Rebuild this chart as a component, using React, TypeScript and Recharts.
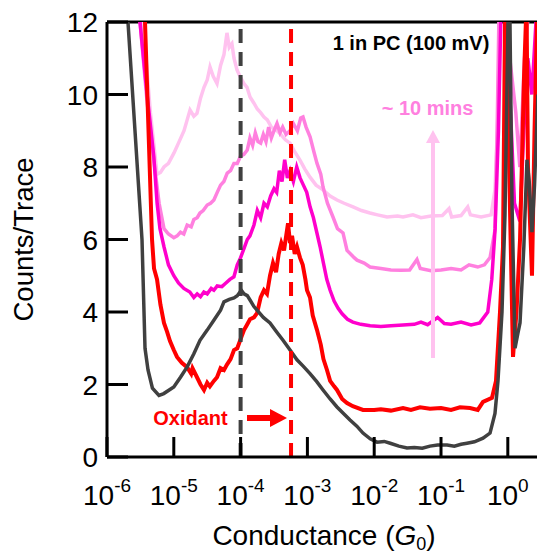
import React from 'react';
import { LineChart, Line, XAxis, YAxis, ReferenceLine, ReferenceDot } from 'recharts';

// x values are log10(G/G0)
const xTicks = [-6, -5, -4, -3, -2, -1, 0];
const yTicks = [0, 2, 4, 6, 8, 10, 12];

const graySeries: [number, number][] = [
  [-5.75, 14], [-5.686, 12], [-5.476, 6.0], [-5.431, 3.0], [-5.386, 2.4], [-5.32, 1.9], [-5.222, 1.7],
  [-5.15, 1.75], [-5.0, 1.93], [-4.9, 2.2], [-4.802, 2.48], [-4.7, 2.85], [-4.608, 3.22], [-4.5, 3.5],
  [-4.398, 3.78], [-4.3, 4.05], [-4.249, 4.28], [-4.17, 4.35], [-4.099, 4.39], [-4.05, 4.45], [-3.99, 4.6],
  [-3.95, 4.5], [-3.9, 4.45], [-3.859, 4.33], [-3.8, 4.15], [-3.754, 4.05], [-3.66, 3.85], [-3.56, 3.7],
  [-3.46, 3.45], [-3.365, 3.22], [-3.26, 2.95], [-3.156, 2.68], [-3.06, 2.5], [-2.961, 2.3], [-2.86, 2.08],
  [-2.766, 1.85], [-2.66, 1.6], [-2.557, 1.38], [-2.46, 1.2], [-2.362, 1.02], [-2.26, 0.85], [-2.168, 0.66],
  [-2.06, 0.5], [-1.958, 0.41], [-1.85, 0.43], [-1.76, 0.38], [-1.63, 0.3], [-1.509, 0.25], [-1.4, 0.26],
  [-1.28, 0.24], [-1.165, 0.3], [-1.05, 0.33], [-0.91, 0.33], [-0.8, 0.3], [-0.7, 0.35], [-0.611, 0.38],
  [-0.5, 0.42], [-0.371, 0.52], [-0.266, 0.66], [-0.192, 1.2], [-0.147, 2.1], [-0.087, 4.0], [-0.042, 6.7],
  [0.003, 12], [0.02, 14], [0.063, 7], [0.108, 3.0], [0.15, 3.4], [0.183, 3.7], [0.24, 5.8], [0.287, 8.2],
  [0.32, 7.6], [0.362, 6.2], [0.4, 7.5], [0.45, 10],
];

const redSeries: [number, number][] = [
  [-5.47, 14], [-5.431, 12], [-5.326, 6.0], [-5.296, 5.2], [-5.251, 4.9], [-5.2, 4.2], [-5.147, 3.7],
  [-5.1, 3.45], [-5.057, 3.2], [-5.0, 2.95], [-4.952, 2.76], [-4.88, 2.6], [-4.802, 2.48], [-4.74, 2.3],
  [-4.72, 2.45], [-4.653, 2.2], [-4.6, 2.0], [-4.548, 1.85], [-4.5, 2.05], [-4.46, 1.95], [-4.4, 2.1],
  [-4.353, 2.2], [-4.3, 2.45], [-4.249, 2.4], [-4.204, 2.55], [-4.15, 2.7], [-4.099, 2.95], [-4.05, 3.0],
  [-3.99, 3.3], [-3.949, 3.5], [-3.904, 3.65], [-3.859, 3.8], [-3.8, 3.85], [-3.754, 3.97], [-3.7, 4.4],
  [-3.65, 4.6], [-3.605, 4.5], [-3.56, 5.0], [-3.515, 5.35], [-3.47, 5.1], [-3.43, 5.6], [-3.39, 5.9],
  [-3.35, 5.7], [-3.31, 6.2], [-3.29, 6.45], [-3.26, 5.9], [-3.23, 6.1], [-3.19, 5.6], [-3.156, 5.8],
  [-3.111, 5.5], [-3.07, 5.3], [-3.03, 4.9], [-3.006, 4.6], [-2.961, 4.4], [-2.92, 3.9], [-2.856, 3.5],
  [-2.8, 3.1], [-2.76, 2.7], [-2.707, 2.4], [-2.66, 2.1], [-2.6, 1.95], [-2.557, 1.85], [-2.48, 1.6],
  [-2.407, 1.49], [-2.32, 1.4], [-2.168, 1.3], [-2.0, 1.3], [-1.9, 1.32], [-1.75, 1.28], [-1.569, 1.35],
  [-1.45, 1.3], [-1.314, 1.37], [-1.165, 1.33], [-1.0, 1.35], [-0.85, 1.3], [-0.716, 1.37], [-0.566, 1.35],
  [-0.45, 1.3], [-0.371, 1.52], [-0.237, 1.63], [-0.177, 2.1], [-0.117, 4.0], [-0.072, 5.8], [-0.042, 12],
  [-0.02, 14], [0.02, 8], [0.078, 2.76], [0.13, 4], [0.183, 6.0], [0.243, 10.5], [0.28, 12.5], [0.302, 8],
  [0.362, 5.0], [0.4, 9], [0.437, 12],
];

const magentaSeries: [number, number][] = [
  [-5.51, 14], [-5.506, 12], [-5.4, 10], [-5.3, 8.3], [-5.25, 7.0], [-5.207, 6.3], [-5.147, 5.8],
  [-5.08, 5.3], [-5.0, 5.0], [-4.93, 4.8], [-4.85, 4.65], [-4.76, 4.55], [-4.7, 4.4], [-4.65, 4.5],
  [-4.6, 4.42], [-4.55, 4.55], [-4.5, 4.5], [-4.44, 4.65], [-4.4, 4.6], [-4.35, 4.72], [-4.28, 4.7],
  [-4.22, 4.8], [-4.16, 4.9], [-4.1, 4.97], [-4.05, 5.3], [-4.0, 5.5], [-3.95, 5.75], [-3.9, 6.0],
  [-3.86, 6.1], [-3.8, 6.4], [-3.75, 6.8], [-3.7, 6.6], [-3.65, 7.0], [-3.6, 6.9], [-3.55, 7.2],
  [-3.5, 7.4], [-3.46, 7.3], [-3.42, 7.9], [-3.38, 7.6], [-3.34, 8.2], [-3.3, 7.7], [-3.26, 7.9],
  [-3.21, 7.6], [-3.16, 8.0], [-3.11, 7.7], [-3.06, 7.5], [-3.01, 7.3], [-2.96, 6.9], [-2.91, 6.6],
  [-2.86, 6.2], [-2.81, 5.8], [-2.76, 5.35], [-2.71, 4.9], [-2.66, 4.6], [-2.6, 4.3], [-2.54, 4.1],
  [-2.48, 3.95], [-2.4, 3.8], [-2.32, 3.72], [-2.2, 3.66], [-2.06, 3.62], [-1.9, 3.6], [-1.75, 3.62],
  [-1.57, 3.64], [-1.4, 3.66], [-1.3, 3.72], [-1.2, 3.65], [-1.05, 3.85], [-0.95, 3.68], [-0.85, 3.66],
  [-0.7, 3.72], [-0.55, 3.64], [-0.42, 3.7], [-0.3, 4.0], [-0.24, 4.9], [-0.19, 6.3], [-0.14, 9],
  [-0.1, 12.5], [-0.05, 14], [0.03, 10], [0.1, 7], [0.18, 6.5], [0.24, 9], [0.3, 11], [0.36, 10], [0.437, 12.5],
];

const pinkSeries: [number, number][] = [
  [-5.51, 14], [-5.506, 12], [-5.4, 9.8], [-5.3, 8.2], [-5.22, 7.0], [-5.147, 6.3], [-5.08, 6.15],
  [-5.0, 6.05], [-4.95, 6.1], [-4.9, 6.2], [-4.85, 6.15], [-4.8, 6.4], [-4.74, 6.35], [-4.7, 6.55],
  [-4.65, 6.6], [-4.608, 6.73], [-4.56, 6.8], [-4.5, 6.95], [-4.45, 7.0], [-4.4, 7.09], [-4.35, 7.3],
  [-4.3, 7.5], [-4.25, 7.6], [-4.2, 7.83], [-4.15, 7.9], [-4.1, 8.1], [-4.05, 8.1], [-4.0, 8.3],
  [-3.95, 8.35], [-3.9, 8.47], [-3.86, 8.8], [-3.82, 8.6], [-3.78, 8.94], [-3.74, 8.7], [-3.7, 8.66],
  [-3.66, 8.9], [-3.62, 8.7], [-3.58, 9.1], [-3.54, 8.8], [-3.5, 9.0], [-3.455, 9.2], [-3.41, 8.95],
  [-3.37, 9.1], [-3.32, 8.9], [-3.26, 9.0], [-3.21, 9.2], [-3.15, 9.0], [-3.1, 9.35], [-3.066, 9.38],
  [-3.02, 9.1], [-2.96, 8.83], [-2.9, 8.4], [-2.856, 8.1], [-2.8, 7.8], [-2.766, 7.45], [-2.7, 7.0],
  [-2.617, 6.62], [-2.55, 6.3], [-2.467, 6.18], [-2.407, 5.7], [-2.3, 5.5], [-2.257, 5.43], [-2.15, 5.35],
  [-2.063, 5.24], [-1.9, 5.2], [-1.75, 5.16], [-1.6, 5.15], [-1.47, 5.16], [-1.36, 5.45], [-1.31, 5.2],
  [-1.15, 5.14], [-1.0, 5.16], [-0.85, 5.2], [-0.7, 5.16], [-0.58, 5.3], [-0.45, 5.24], [-0.35, 5.3],
  [-0.266, 5.5], [-0.192, 6.26], [-0.16, 9], [-0.13, 12.5], [-0.08, 14], [0.03, 11], [0.12, 9.5],
  [0.18, 8], [0.25, 11], [0.32, 12.5], [0.437, 13],
];

const lightPinkSeries: [number, number][] = [
  [-5.51, 14], [-5.461, 12], [-5.35, 9.5], [-5.28, 8.3], [-5.251, 7.8], [-5.2, 7.85], [-5.147, 8.0],
  [-5.08, 8.1], [-4.997, 8.39], [-4.92, 8.7], [-4.847, 9.0], [-4.8, 9.3], [-4.757, 9.57], [-4.7, 9.4],
  [-4.653, 9.48], [-4.6, 9.9], [-4.548, 10.2], [-4.5, 10.4], [-4.458, 10.76], [-4.41, 10.5], [-4.353, 10.3],
  [-4.3, 10.8], [-4.249, 11.1], [-4.204, 11.7], [-4.17, 11.3], [-4.13, 11.4], [-4.099, 11.0], [-4.054, 10.68],
  [-4.009, 10.5], [-3.95, 10.3], [-3.904, 10.2], [-3.859, 9.93], [-3.8, 9.76], [-3.75, 9.6], [-3.7, 9.5],
  [-3.65, 9.38], [-3.6, 9.3], [-3.54, 9.1], [-3.455, 9.0], [-3.4, 8.9], [-3.33, 8.75], [-3.26, 8.66],
  [-3.2, 8.45], [-3.111, 8.19], [-3.04, 7.95], [-2.961, 7.72], [-2.87, 7.5], [-2.766, 7.37], [-2.66, 7.2],
  [-2.557, 7.09], [-2.45, 7.0], [-2.317, 6.9], [-2.19, 6.8], [-2.063, 6.73], [-1.95, 6.68], [-1.808, 6.62],
  [-1.65, 6.65], [-1.569, 6.62], [-1.42, 6.68], [-1.3, 6.6], [-1.15, 6.65], [-0.98, 6.66], [-0.88, 6.85],
  [-0.84, 6.62], [-0.7, 6.66], [-0.6, 6.9], [-0.56, 6.68], [-0.4, 6.62], [-0.25, 6.68], [-0.192, 7.37],
  [-0.147, 9.5], [-0.117, 12.5], [-0.08, 14], [0.1, 13], [0.2, 12.5], [0.437, 14],
];

// annotation anchors (data coordinates)
const grayMarkerLogG = -4.0;
const redMarkerLogG = -3.245;
const titleText = '1 in PC (100 mV)';
const timeText = '~ 10 mins';
const oxidantText = 'Oxidant';

const toData = (s: [number, number][]) => s.map(([lg, v]) => ({ lg, v }));

const FONT = '"Liberation Sans", Arial, Helvetica, sans-serif';
const GRAY = '#404040';
const RED = '#ff0000';
const MAGENTA = '#ff00cc';
const PINK = '#ff80df';
const LIGHT = '#ffc2ef';

const XTick = (props: any) => {
  const { x, y, payload } = props;
  return (
    <g>
      <line x1={x} y1={y} x2={x} y2={y - 20} stroke="#000" strokeWidth={3} />
      <text x={x} y={y + 48} textAnchor="middle" fontSize={28} fill="#000" fontFamily={FONT}>
        10<tspan dy={-13} fontSize={19}>{String(payload.value)}</tspan>
      </text>
    </g>
  );
};

const YTick = (props: any) => {
  const { x, y, payload } = props;
  return (
    <g>
      <line x1={x} y1={y} x2={x + 21} y2={y} stroke="#000" strokeWidth={3} />
      <text x={x - 9} y={y + 10} textAnchor="end" fontSize={28} fill="#000" fontFamily={FONT}>
        {payload.value}
      </text>
    </g>
  );
};

const XTitle = (props: any) => {
  const vb = props.viewBox;
  return (
    <text x={vb.x + vb.width / 2 + 2} y={vb.y + 88} textAnchor="middle" fontSize={28} fill="#000" fontFamily={FONT}>
      Conductance (<tspan fontStyle="italic">G</tspan>
      <tspan fontSize={18} dy={5}>0</tspan>
      <tspan dy={-5}>)</tspan>
    </text>
  );
};

const YTitle = (props: any) => {
  const vb = props.viewBox;
  const cy = vb.y + vb.height / 2;
  return (
    <text transform={`translate(33, ${cy}) rotate(-90)`} textAnchor="middle" fontSize={27.5} fill="#000" fontFamily={FONT}>
      Counts/Trace
    </text>
  );
};

const makeArrow = (color: string, width: number, headLen: number, headHalf: number) => (p: any) => {
  const { x1, y1, x2, y2 } = p;
  const dx = x2 - x1;
  const dy = y2 - y1;
  const len = Math.hypot(dx, dy) || 1;
  const ux = dx / len;
  const uy = dy / len;
  const bx = x2 - ux * headLen;
  const by = y2 - uy * headLen;
  const px = -uy;
  const py = ux;
  return (
    <g>
      <line x1={x1} y1={y1} x2={bx + ux} y2={by + uy} stroke={color} strokeWidth={width} />
      <polygon
        points={`${x2},${y2} ${bx + px * headHalf},${by + py * headHalf} ${bx - px * headHalf},${by - py * headHalf}`}
        fill={color}
      />
    </g>
  );
};

const makeText = (text: string, color: string, size: number) => (p: any) => (
  <text
    x={p.cx}
    y={p.cy}
    textAnchor="middle"
    dominantBaseline="central"
    fill={color}
    fontSize={size}
    fontWeight="bold"
    fontFamily={FONT}
  >
    {text}
  </text>
);

export default function App() {
  return (
    <div style={{ position: 'absolute', left: 0, top: 0, width: 537, height: 554, overflow: 'hidden', background: '#fff' }}>
      <LineChart width={537} height={554} margin={{ top: 22, right: 0, left: 0, bottom: 0 }}>
        <XAxis
          type="number"
          dataKey="lg"
          domain={[-6, 0.437]}
          allowDataOverflow
          ticks={xTicks}
          interval={0}
          tickSize={0}
          tickMargin={0}
          height={97}
          axisLine={{ stroke: '#000', strokeWidth: 3 }}
          tickLine={false}
          tick={<XTick />}
          label={XTitle}
        />
        <YAxis
          type="number"
          dataKey="v"
          domain={[0, 12]}
          allowDataOverflow
          ticks={yTicks}
          interval={0}
          tickSize={0}
          tickMargin={0}
          width={107}
          axisLine={{ stroke: '#000', strokeWidth: 3 }}
          tickLine={false}
          tick={<YTick />}
          label={YTitle}
        />
        <ReferenceLine y={12} stroke="#000" strokeWidth={3} />
        <Line data={toData(lightPinkSeries)} dataKey="v" stroke={LIGHT} strokeWidth={3.5} dot={false} isAnimationActive={false} type="linear" />
        <Line data={toData(pinkSeries)} dataKey="v" stroke={PINK} strokeWidth={3.5} dot={false} isAnimationActive={false} type="linear" />
        <Line data={toData(magentaSeries)} dataKey="v" stroke={MAGENTA} strokeWidth={3.5} dot={false} isAnimationActive={false} type="linear" />
        <Line data={toData(redSeries)} dataKey="v" stroke={RED} strokeWidth={4} dot={false} isAnimationActive={false} type="linear" />
        <Line data={toData(graySeries)} dataKey="v" stroke={GRAY} strokeWidth={3.5} dot={false} isAnimationActive={false} type="linear" />
        <ReferenceLine x={grayMarkerLogG} stroke={GRAY} strokeWidth={4} strokeDasharray="14 9" />
        <ReferenceLine x={redMarkerLogG} stroke={RED} strokeWidth={4} strokeDasharray="14 9" />
        <ReferenceLine
          segment={[{ x: -1.12, y: 2.73 }, { x: -1.12, y: 9.02 }]}
          stroke={LIGHT}
          shape={makeArrow(LIGHT, 4, 13, 7)}
        />
        <ReferenceLine
          segment={[{ x: -3.904, y: 1.076 }, { x: -3.305, y: 1.076 }]}
          stroke={RED}
          shape={makeArrow(RED, 6, 17, 9)}
        />
        <ReferenceDot x={-1.449} y={11.42} r={0} shape={makeText(titleText, '#000', 20)} />
        <ReferenceDot x={-1.202} y={9.63} r={0} shape={makeText(timeText, PINK, 20)} />
        <ReferenceDot x={-4.75} y={1.076} r={0} shape={makeText(oxidantText, RED, 20)} />
      </LineChart>
    </div>
  );
}
